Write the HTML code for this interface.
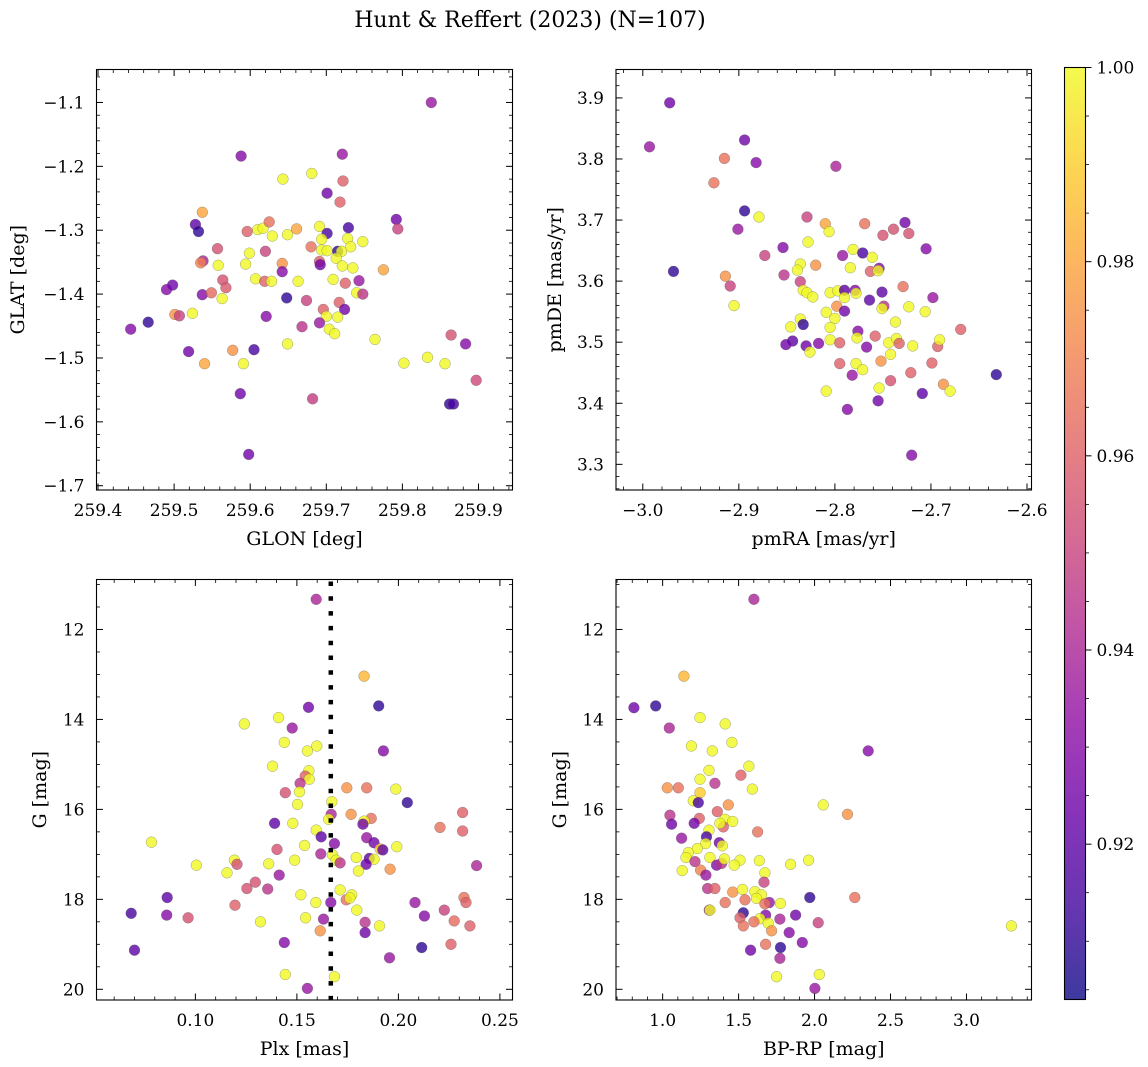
<!DOCTYPE html>
<html><head><meta charset="utf-8">
<style>
html,body{margin:0;padding:0;background:#fff;}
svg{display:block;font-family:"DejaVu Serif","Liberation Serif",serif;}
</style></head>
<body>
<svg id="chart" width="1148" height="1067" viewBox="0 0 1148 1067" xmlns="http://www.w3.org/2000/svg">
<defs>
<linearGradient id="plasmaGrad" x1="0" y1="1" x2="0" y2="0">
<stop offset="0" stop-color="#0d0887"/><stop offset="0.1" stop-color="#41049d"/><stop offset="0.2" stop-color="#6a00a8"/><stop offset="0.3" stop-color="#8f0da4"/><stop offset="0.4" stop-color="#b12a90"/><stop offset="0.5" stop-color="#cc4778"/><stop offset="0.6" stop-color="#e16462"/><stop offset="0.7" stop-color="#f2844b"/><stop offset="0.8" stop-color="#fca636"/><stop offset="0.9" stop-color="#fcce25"/><stop offset="1" stop-color="#f0f921"/>
</linearGradient>
</defs>
<text x="530" y="27" font-size="22" text-anchor="middle">Hunt &amp; Reffert (2023) (N=107)</text>
<g id="layer"></g>
</svg>
<script>
// ---- data ----
const p1X=[259.838,259.588,259.721,259.643,259.681,259.722,259.701,259.718,259.537,259.792,259.794,259.528,259.532,259.596,259.610,259.617,259.625,259.629,259.649,259.661,259.691,259.701,259.729,259.694,259.728,259.748,259.680,259.732,259.557,259.620,259.599,259.538,259.694,259.701,259.715,259.720,259.535,259.558,259.594,259.642,259.642,259.691,259.692,259.713,259.721,259.735,259.775,259.607,259.619,259.628,259.663,259.709,259.725,259.743,259.564,259.568,259.490,259.498,259.537,259.549,259.563,259.648,259.674,259.740,259.748,259.717,259.724,259.696,259.700,259.715,259.501,259.507,259.524,259.621,259.466,259.443,259.668,259.691,259.704,259.711,259.764,259.649,259.864,259.883,259.519,259.577,259.605,259.540,259.591,259.802,259.833,259.856,259.897,259.587,259.682,259.862,259.867,259.598];
const p1Y=[-1.100,-1.184,-1.181,-1.220,-1.211,-1.223,-1.242,-1.256,-1.272,-1.283,-1.298,-1.291,-1.302,-1.302,-1.299,-1.297,-1.287,-1.309,-1.307,-1.298,-1.294,-1.305,-1.296,-1.314,-1.313,-1.318,-1.326,-1.326,-1.329,-1.333,-1.336,-1.348,-1.331,-1.332,-1.333,-1.333,-1.351,-1.355,-1.353,-1.352,-1.365,-1.349,-1.354,-1.344,-1.356,-1.359,-1.362,-1.376,-1.380,-1.380,-1.380,-1.377,-1.383,-1.379,-1.378,-1.390,-1.393,-1.386,-1.401,-1.398,-1.407,-1.406,-1.410,-1.398,-1.400,-1.413,-1.424,-1.424,-1.435,-1.436,-1.432,-1.434,-1.430,-1.435,-1.444,-1.455,-1.451,-1.445,-1.455,-1.462,-1.471,-1.478,-1.464,-1.478,-1.490,-1.488,-1.487,-1.509,-1.509,-1.508,-1.499,-1.509,-1.535,-1.556,-1.564,-1.572,-1.572,-1.651];
const p1C=[0.935,0.93,0.935,1,1,0.96,0.925,0.96,0.98,0.925,0.95,0.92,0.91,0.96,1,1,0.965,1,1,0.98,1,0.915,0.915,1,1,1,0.965,1,0.955,0.95,1,0.94,1,1,0.91,1,0.97,1,1,0.975,0.93,0.96,0.925,1,1,1,0.98,1,0.96,1,1,1,0.96,0.935,0.955,0.958,0.93,0.925,0.93,0.963,1,0.91,0.95,1,0.945,0.96,0.925,0.96,1,1,0.975,0.95,1,0.93,0.91,0.93,0.945,0.935,1,1,1,1,0.955,0.93,0.925,0.975,0.915,0.98,1,1,1,1,0.952,0.925,0.948,0.91,0.915,0.925];

const p2X=[-2.972,-2.993,-2.894,-2.915,-2.882,-2.799,-2.926,-2.894,-2.879,-2.901,-2.829,-2.810,-2.806,-2.769,-2.727,-2.739,-2.750,-2.723,-2.828,-2.854,-2.705,-2.873,-2.792,-2.781,-2.771,-2.761,-2.836,-2.839,-2.820,-2.784,-2.763,-2.754,-2.755,-2.968,-2.914,-2.853,-2.909,-2.836,-2.833,-2.829,-2.823,-2.729,-2.698,-2.905,-2.805,-2.797,-2.790,-2.779,-2.778,-2.790,-2.751,-2.764,-2.798,-2.790,-2.809,-2.800,-2.749,-2.751,-2.723,-2.706,-2.737,-2.836,-2.833,-2.846,-2.805,-2.776,-2.777,-2.805,-2.795,-2.758,-2.669,-2.844,-2.851,-2.830,-2.826,-2.817,-2.767,-2.744,-2.736,-2.733,-2.719,-2.693,-2.691,-2.742,-2.752,-2.795,-2.778,-2.771,-2.782,-2.721,-2.699,-2.742,-2.687,-2.680,-2.632,-2.809,-2.754,-2.709,-2.755,-2.787,-2.720];
const p2Y=[3.892,3.820,3.831,3.801,3.794,3.788,3.761,3.715,3.705,3.685,3.705,3.694,3.681,3.694,3.696,3.685,3.675,3.678,3.664,3.655,3.653,3.642,3.642,3.652,3.646,3.639,3.628,3.618,3.626,3.622,3.616,3.621,3.617,3.616,3.608,3.610,3.592,3.599,3.585,3.581,3.574,3.591,3.573,3.560,3.581,3.584,3.585,3.585,3.580,3.573,3.582,3.569,3.559,3.551,3.549,3.539,3.559,3.555,3.558,3.550,3.533,3.538,3.529,3.525,3.524,3.518,3.507,3.504,3.499,3.510,3.521,3.502,3.496,3.494,3.484,3.498,3.492,3.499,3.506,3.498,3.494,3.493,3.504,3.480,3.469,3.465,3.465,3.455,3.446,3.450,3.466,3.437,3.431,3.420,3.447,3.420,3.425,3.416,3.404,3.390,3.315];
const p2C=[0.925,0.935,0.925,0.965,0.93,0.94,0.965,0.91,1,0.935,0.95,0.98,1,0.965,0.925,0.955,0.955,0.955,1,0.93,0.93,0.95,0.935,1,0.915,1,1,1,0.975,1,0.96,0.93,1,0.91,0.975,0.945,0.95,0.95,1,1,1,0.965,0.935,1,1,1,0.92,0.93,1,1,0.92,0.92,0.975,0.925,1,1,0.945,1,1,1,1,1,0.91,1,1,0.93,1,1,0.96,0.96,0.96,0.92,0.925,0.925,1,0.93,0.93,1,1,0.96,1,0.96,1,1,0.975,0.96,1,1,0.935,0.96,0.96,0.955,0.975,1,0.91,1,1,0.92,0.925,0.93,0.93];

const p3X=[0.1595,0.1831,0.1557,0.1903,0.1410,0.1241,0.1477,0.1438,0.1598,0.1552,0.1926,0.1380,0.1559,0.1541,0.1561,0.1516,0.1513,0.1443,0.1746,0.1844,0.1987,0.1503,0.1672,0.2044,0.2316,0.1669,0.1656,0.1767,0.1866,0.1831,0.1825,0.1390,0.1480,0.2205,0.2316,0.1595,0.1620,0.1685,0.1844,0.1880,0.1910,0.1923,0.1992,0.0784,0.1402,0.1538,0.1618,0.1675,0.1693,0.1713,0.1792,0.1857,0.1880,0.1841,0.1803,0.1959,0.2385,0.1005,0.1192,0.1205,0.1156,0.1361,0.1489,0.1413,0.1254,0.1295,0.1356,0.1520,0.1713,0.1770,0.1743,0.1761,0.0861,0.1195,0.1593,0.1667,0.1795,0.2082,0.2323,0.2333,0.2226,0.0684,0.0859,0.0964,0.1321,0.1543,0.1631,0.1836,0.1907,0.2128,0.2275,0.2352,0.1615,0.1836,0.1438,0.2259,0.2115,0.0700,0.1956,0.1443,0.1685,0.1552];
const p3Y=[11.33,13.04,13.73,13.70,13.96,14.10,14.19,14.51,14.59,14.70,14.70,15.04,15.14,15.26,15.33,15.42,15.61,15.63,15.52,15.52,15.55,15.89,15.83,15.85,16.07,16.11,16.22,16.11,16.20,16.26,16.33,16.31,16.31,16.40,16.48,16.46,16.61,16.76,16.63,16.74,16.88,16.90,16.83,16.73,16.89,16.80,16.99,17.01,17.13,17.19,17.07,17.09,17.11,17.22,17.37,17.33,17.25,17.24,17.13,17.22,17.41,17.21,17.13,17.46,17.76,17.62,17.77,17.90,17.79,17.90,18.01,17.97,17.96,18.13,18.07,18.07,18.24,18.07,17.96,18.07,18.24,18.31,18.35,18.41,18.50,18.41,18.44,18.51,18.59,18.37,18.48,18.59,18.70,18.74,18.96,19.00,19.07,19.13,19.30,19.67,19.72,19.98];
const p3C=[0.94,0.985,0.925,0.91,1,1,0.935,1,1,1,0.93,1,1,0.96,1,0.945,1,0.955,0.975,0.965,1,1,1,0.91,0.96,0.94,1,0.975,0.965,1,0.925,0.92,1,0.965,0.96,1,0.92,0.93,0.935,0.925,0.99,0.92,1,1,0.955,1,0.94,1,1,0.945,1,0.92,1,0.925,1,0.975,0.94,1,1,0.955,1,1,1,0.935,0.955,0.955,0.945,1,1,1,0.965,1,0.92,0.96,1,0.93,1,0.935,0.965,0.96,0.95,0.915,0.93,0.955,1,1,0.935,0.945,1,0.93,0.963,0.96,0.975,0.925,0.93,0.96,0.91,0.92,0.935,1,1,0.935];

const p4X=[1.601,1.140,0.811,0.954,1.044,1.246,1.412,1.189,1.327,1.456,2.353,1.568,1.305,1.515,1.246,1.344,1.031,1.103,1.590,1.246,1.202,1.235,2.057,2.217,1.432,1.360,1.048,1.241,1.059,1.208,1.410,1.461,1.399,1.377,1.625,1.305,1.125,1.289,1.373,1.283,1.393,1.228,1.169,1.154,1.213,1.311,1.355,1.388,1.406,1.509,1.471,1.636,1.842,1.961,1.129,1.250,1.285,1.673,1.667,1.296,1.344,1.461,1.526,1.542,1.607,1.651,1.618,1.702,1.673,1.776,1.969,2.265,1.412,1.307,1.311,1.531,1.509,1.678,1.640,1.601,1.695,1.772,1.875,2.024,1.531,1.717,1.833,3.296,1.678,1.919,1.579,1.776,1.772,1.750,2.031,2.002];
const p4Y=[11.33,13.04,13.74,13.70,14.19,13.96,14.10,14.59,14.70,14.51,14.70,15.04,15.13,15.24,15.33,15.42,15.52,15.52,15.55,15.63,15.81,15.85,15.90,16.11,15.90,16.05,16.13,16.20,16.33,16.31,16.22,16.27,16.39,16.31,16.50,16.46,16.64,16.61,16.74,16.76,16.81,16.87,16.96,17.07,17.16,17.07,17.24,17.20,17.10,17.13,17.24,17.14,17.22,17.13,17.36,17.35,17.46,17.41,17.62,17.76,17.76,17.84,17.78,18.01,17.83,17.90,17.98,18.07,18.10,18.09,17.96,17.96,18.07,18.24,18.24,18.30,18.41,18.35,18.43,18.50,18.53,18.44,18.35,18.52,18.59,18.70,18.74,18.59,19.00,18.96,19.13,19.07,19.31,19.72,19.67,19.98];
const p4C=[0.94,0.985,0.925,0.91,0.94,1,1,1,1,1,0.93,1,1,0.96,1,0.945,0.975,0.965,1,0.99,1,0.915,1,0.975,0.975,0.96,0.945,0.96,0.925,0.925,1,1,0.96,1,0.965,1,0.935,0.915,0.925,1,1,1,1,1,0.945,1,0.93,0.945,1,1,1,1,1,1,1,0.97,0.935,1,0.95,0.945,0.96,0.975,1,0.965,1,1,1,0.935,0.965,1,0.91,0.965,0.965,0.935,1,0.91,0.96,0.93,1,0.965,1,0.94,0.925,0.95,0.965,0.975,0.93,1,0.965,0.93,0.925,0.91,0.94,1,1,0.935];

const p1XTicks=[259.4,259.5,259.6,259.7,259.8,259.9];
const p1YTicks=[-1.1,-1.2,-1.3,-1.4,-1.5,-1.6,-1.7];
const p2XTicks=[-3.0,-2.9,-2.8,-2.7,-2.6];
const p2YTicks=[3.3,3.4,3.5,3.6,3.7,3.8,3.9];
const p3XTicks=[0.10,0.15,0.20,0.25];
const gTicks=[12,14,16,18,20];
const p4XTicks=[1.0,1.5,2.0,2.5,3.0];
const cbarTicks=[0.92,0.94,0.96,0.98,1.00];
const plxLine=[0.1667];
const cMin=0.904, cMax=1.0;

// ---- helpers ----
const NS="http://www.w3.org/2000/svg";
const layer=document.getElementById('layer');
function mk(tag,attrs,parent){const e=document.createElementNS(NS,tag);for(const k in attrs)e.setAttribute(k,attrs[k]);(parent||layer).appendChild(e);return e;}
const stops=[[13,8,135],[65,4,157],[106,0,168],[143,13,164],[177,42,144],[204,71,120],[225,100,98],[242,132,75],[252,166,54],[252,206,37],[240,249,33]];
function plasma(t){t=Math.max(0,Math.min(1,t));const f=t*10;const i=Math.min(9,Math.floor(f));const r=f-i;const a=stops[i],b=stops[i+1];return 'rgb('+[0,1,2].map(k=>Math.round(a[k]+(b[k]-a[k])*r)).join(',')+')';}
function fmt(v,d){const s=Math.abs(v).toFixed(d);return (v<-1e-9?'\u2212':'')+s;}
const TICKFS=17, LABFS=19;

function panel(cfg){
  const [L,T,R,B]=cfg.frame;
  const sx=v=>L+(v-cfg.xd[0])/(cfg.xd[1]-cfg.xd[0])*(R-L);
  const sy=v=>T+(v-cfg.yd[0])/(cfg.yd[1]-cfg.yd[0])*(B-T);
  const g=mk('g',{});
  
  
  const clipId=cfg.name+'-clip';
  const cp=mk('clipPath',{id:clipId},g);mk('rect',{x:L,y:T,width:R-L,height:B-T},cp);
  const pts=mk('g',{'clip-path':'url(#'+clipId+')'},g);
  
  
  const n=Math.min(cfg.xs.length,cfg.ys.length,cfg.cs.length);
  for(let i=0;i<n;i++){
    const c=mk('circle',{cx:sx(cfg.xs[i]).toFixed(1),cy:sy(cfg.ys[i]).toFixed(1),r:5.4,fill:plasma((cfg.cs[i]-cMin)/(cMax-cMin)),'fill-opacity':0.8,stroke:'#555','stroke-opacity':0.55,'stroke-width':0.5},pts);
    
    
  }
  if(cfg.vline){cfg.vline.forEach(v=>{const l=mk('line',{x1:sx(v),x2:sx(v),y1:T+2,y2:B+2,stroke:'#000','stroke-width':4.5,'stroke-dasharray':'4.5 10.3'},g);
    
    });}
  const tk=mk('g',{stroke:'#000'},g);
  const minorX=[],minorY=[];
  for(let v=Math.ceil(Math.min(...cfg.xd)/cfg.xm-1e-6)*cfg.xm;v<=Math.max(...cfg.xd)+1e-9;v+=cfg.xm){if(!cfg.xt.some(t=>Math.abs(t-v)<cfg.xm/3))minorX.push(v);}
  for(let v=Math.ceil(Math.min(...cfg.yd)/cfg.ym-1e-6)*cfg.ym;v<=Math.max(...cfg.yd)+1e-9;v+=cfg.ym){if(!cfg.yt.some(t=>Math.abs(t-v)<cfg.ym/3))minorY.push(v);}
  cfg.xt.forEach(v=>{const x=sx(v);if(x<L-0.5||x>R+0.5)return;mk('line',{x1:x,x2:x,y1:B,y2:B-6.5,'stroke-width':1},tk);mk('line',{x1:x,x2:x,y1:T,y2:T+6.5,'stroke-width':1},tk);
    const t=mk('text',{x:x,y:B+26,'font-size':TICKFS,'text-anchor':'middle',stroke:'none',fill:'#000'},g);t.textContent=fmt(v,cfg.xdp);
    
    });
  minorX.forEach(v=>{const x=sx(v);mk('line',{x1:x,x2:x,y1:B,y2:B-3.5,'stroke-width':0.8},tk);mk('line',{x1:x,x2:x,y1:T,y2:T+3.5,'stroke-width':0.8},tk);});
  cfg.yt.forEach(v=>{const y=sy(v);if(y<T-0.5||y>B+0.5)return;mk('line',{x1:L,x2:L+6.5,y1:y,y2:y,'stroke-width':1},tk);mk('line',{x1:R,x2:R-6.5,y1:y,y2:y,'stroke-width':1},tk);
    const t=mk('text',{x:L-12,y:y+6,'font-size':TICKFS,'text-anchor':'end',stroke:'none',fill:'#000'},g);t.textContent=fmt(v,cfg.ydp);
    
    });
  minorY.forEach(v=>{const y=sy(v);mk('line',{x1:L,x2:L+3.5,y1:y,y2:y,'stroke-width':0.8},tk);mk('line',{x1:R,x2:R-3.5,y1:y,y2:y,'stroke-width':0.8},tk);});
  const fr=mk('rect',{x:L,y:T,width:R-L,height:B-T,fill:'none',stroke:'#000','stroke-width':1.1},g);
  
  
  const xl=mk('text',{x:(L+R)/2,y:B+55,'font-size':LABFS,'text-anchor':'middle'},g);xl.textContent=cfg.xlab;
  
  
  const yl=mk('text',{x:cfg.ylx,y:(T+B)/2,'font-size':LABFS,'text-anchor':'middle',transform:'rotate(-90 '+cfg.ylx+' '+((T+B)/2)+')'},g);yl.textContent=cfg.ylab;
  
  
}

panel({name:'glon-glat-panel',frame:[96.5,69.5,512.5,490],xd:[259.398,259.9447],yd:[-1.0484,-1.7067],xt:p1XTicks,yt:p1YTicks,xm:0.02,ym:0.02,xdp:1,ydp:1,xs:p1X,ys:p1Y,cs:p1C,xlab:'GLON [deg]',ylab:'GLAT [deg]',ylx:24});
panel({name:'pm-panel',frame:[616,69.5,1031.5,490],xd:[-3.0279,-2.5953],yd:[3.9465,3.258],xt:p2XTicks,yt:p2YTicks,xm:0.02,ym:0.02,xdp:1,ydp:1,xs:p2X,ys:p2Y,cs:p2C,xlab:'pmRA [mas/yr]',ylab:'pmDE [mas/yr]',ylx:561});
panel({name:'plx-g-panel',frame:[96.5,579.5,512.5,1000],xd:[0.0513,0.2562],yd:[10.889,20.238],xt:p3XTicks,yt:gTicks,xm:0.01,ym:0.5,xdp:2,ydp:0,xs:p3X,ys:p3Y,cs:p3C,xlab:'Plx [mas]',ylab:'G [mag]',ylx:46,vline:plxLine});
panel({name:'cmd-panel',frame:[616,579.5,1031.5,1000],xd:[0.693,3.428],yd:[10.889,20.238],xt:p4XTicks,yt:gTicks,xm:0.1,ym:0.5,xdp:1,ydp:0,xs:p4X,ys:p4Y,cs:p4C,xlab:'BP-RP [mag]',ylab:'G [mag]',ylx:566});

(function(){
  const L=1064.5,R=1085.5,T=67.5,B=999.5;
  const sc=v=>B-(v-cMin)/(cMax-cMin)*(B-T);
  const g=mk('g',{});
  
  
  mk('rect',{x:L,y:T,width:R-L,height:B-T,fill:'url(#plasmaGrad)','fill-opacity':0.8},g);
  mk('rect',{x:L,y:T,width:R-L,height:B-T,fill:'none',stroke:'#000','stroke-width':1.1},g);
  for(let v=0.905;v<=1.0001;v+=0.005){if(cbarTicks.some(t=>Math.abs(t-v)<0.002))continue;const y=sc(v);mk('line',{x1:R,x2:R+3.5,y1:y,y2:y,stroke:'#000','stroke-width':0.8},g);}
  cbarTicks.forEach(v=>{const y=sc(v);mk('line',{x1:R,x2:R+6,y1:y,y2:y,stroke:'#000','stroke-width':1},g);
    const t=mk('text',{x:R+11,y:y+6,'font-size':TICKFS},g);t.textContent=v.toFixed(2);
    
    });
})();
</script>
</body></html>
